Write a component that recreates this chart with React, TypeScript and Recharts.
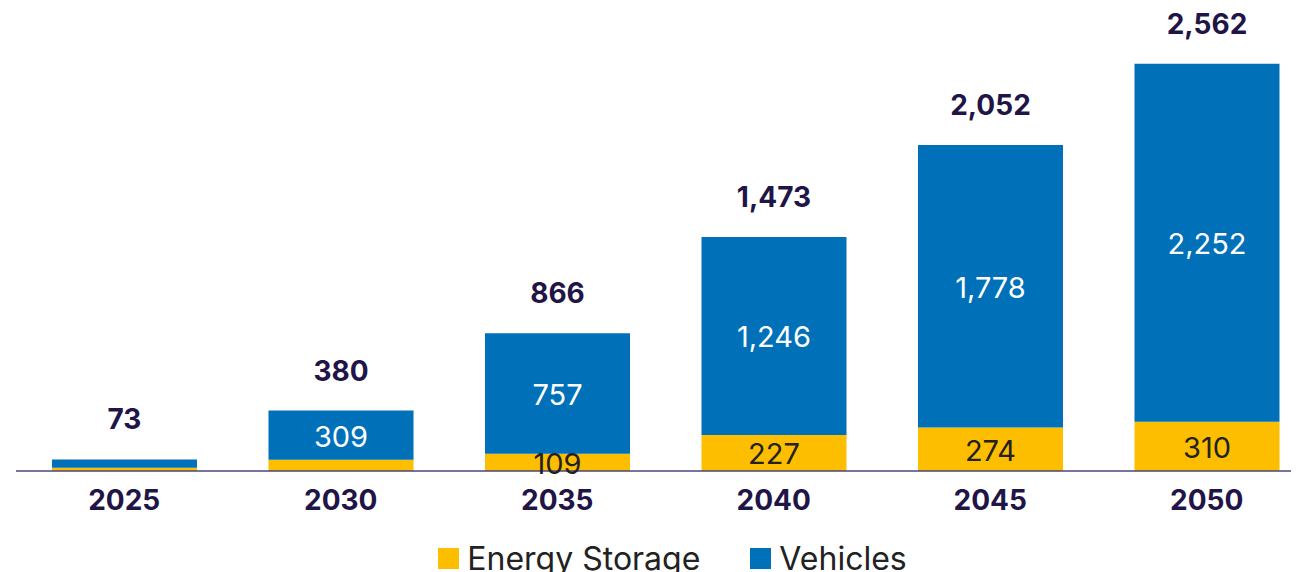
import React from "react";
import { BarChart, Bar, XAxis, YAxis, Legend, LabelList } from "recharts";

const years = ["2025", "2030", "2035", "2040", "2045", "2050"];
const storage = [21, 71, 109, 227, 274, 310];
const vehicles = [52, 309, 757, 1246, 1778, 2252];
const totals = [73, 380, 866, 1473, 2052, 2562];

const data = years.map((year, i) => ({
  year,
  storage: storage[i],
  vehicles: vehicles[i],
  total: totals[i],
}));

const NAVY = "#1f1547";
const BLUE = "#0071b9";
const YELLOW = "#fdbe00";
const FONT = "Inter, 'Open Sans', sans-serif";

const fmt = (v: number) => v.toLocaleString("en-US");

const YearTick = (props: any) => {
  const { x, y, payload } = props;
  return (
    <text
      x={x}
      y={y + 21}
      textAnchor="middle"
      dominantBaseline="central"
      fill={NAVY}
      fontSize={28}
      fontWeight={700}
      fontFamily={FONT}
    >
      {payload.value}
    </text>
  );
};

const insideLabel = (color: string) => (props: any) => {
  const { x, y, width, height, value } = props;
  if (value < 100) return null;
  return (
    <text
      x={x + width / 2}
      y={y + height / 2 + 1}
      textAnchor="middle"
      dominantBaseline="central"
      fill={color}
      fontSize={29}
      fontFamily={FONT}
    >
      {fmt(value)}
    </text>
  );
};

const totalLabel = (props: any) => {
  const { x, y, width, value } = props;
  return (
    <text
      x={x + width / 2}
      y={y - 40}
      textAnchor="middle"
      dominantBaseline="central"
      fill={NAVY}
      fontSize={28}
      fontWeight={700}
      fontFamily={FONT}
    >
      {fmt(value)}
    </text>
  );
};

const legendItems = [
  { name: "Energy Storage", color: YELLOW },
  { name: "Vehicles", color: BLUE },
];

const ChartLegend = () => (
  <div
    style={{
      height: 40,
      display: "flex",
      justifyContent: "center",
      alignItems: "center",
      gap: 50,
      fontFamily: FONT,
      fontSize: 32,
      color: "#222",
      paddingLeft: 14,
    }}
  >
    {legendItems.map((it) => (
      <div key={it.name} style={{ display: "flex", alignItems: "center" }}>
        <span
          style={{
            width: 21,
            height: 21,
            background: it.color,
            display: "inline-block",
            marginRight: 8,
          }}
        />
        <span>{it.name}</span>
      </div>
    ))}
  </div>
);

export default function App() {
  return (
    <div style={{ width: 1291, overflow: "hidden" }}>
      <BarChart
        width={1320}
        height={570}
        data={data}
        margin={{ top: 18, right: 13, left: 8, bottom: 0 }}
        barSize={145}
      >
        <XAxis
          dataKey="year"
          axisLine={{ stroke: "#4a4478", strokeWidth: 1.5 }}
          tickLine={false}
          tick={<YearTick />}
          height={67}
        />
        <YAxis hide domain={[0, 2800]} />
        <Legend verticalAlign="bottom" content={<ChartLegend />} />
        <Bar dataKey="storage" stackId="a" fill={YELLOW} isAnimationActive={false}>
          <LabelList dataKey="storage" content={insideLabel("#222")} />
        </Bar>
        <Bar dataKey="vehicles" stackId="a" fill={BLUE} isAnimationActive={false}>
          <LabelList dataKey="vehicles" content={insideLabel("#ffffff")} />
          <LabelList dataKey="total" content={totalLabel} />
        </Bar>
      </BarChart>
    </div>
  );
}
